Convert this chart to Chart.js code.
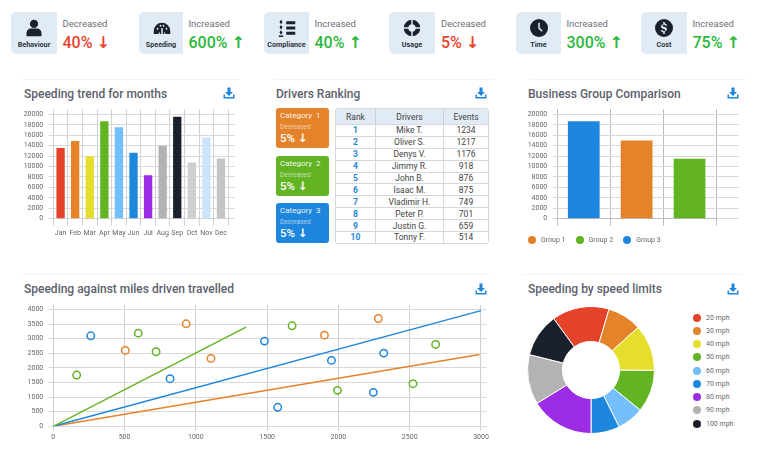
<!DOCTYPE html>
<html>
<head>
<meta charset="utf-8">
<script src="https://cdn.jsdelivr.net/npm/chart.js@4"></script>
<style>
    html, body { margin: 0; padding: 0; background: #fff; width: 762px; height: 462px; overflow: hidden; font-family: Roboto, sans-serif; }
    canvas { position: absolute; }
    .tile { position: absolute; top: 12px; width: 46px; height: 42px; background: #E1EBF5; border-radius: 5px 0 0 5px; }
    .tile svg { position: absolute; left: 14px; top: 7px; width: 18px; height: 18px; fill: #1A202C; }
    .tile span { position: absolute; left: -5px; right: -5px; top: 28px; text-align: center; font-size: 7.2px; line-height: 10px; font-weight: 700; color: #2D3540; }
    .kpi-label { position: absolute; top: 18px; font-size: 9.5px; line-height: 12px; color: #6B6F76; }
    .kpi-value { position: absolute; top: 32.500px; font-size: 16px; line-height: 20px; font-weight: 500; white-space: nowrap; }
    .kpi-value em, .card em { font-family: 'DejaVu Sans', sans-serif; font-style: normal; font-weight: 700; }
    .up { color: #2CB83C; }
    .down { color: #E8442C; }
    .title { position: absolute; font-size: 12px; line-height: 16px; font-weight: 500; color: #5C616C; white-space: nowrap; }
    .rule { position: absolute; height: 1px; background: #F4F4F4; }
    .dl { position: absolute; width: 12px; height: 12px; fill: #1F86DD; }
    .card { position: absolute; left: 276px; width: 53px; height: 40px; border-radius: 3px; color: #fff; }
    .card b { position: absolute; left: 4px; top: 2px; font-size: 8px; line-height: 12px; font-weight: 400; opacity: .9; white-space: pre; }
    .card i { position: absolute; left: 4px; top: 15px; font-size: 6.500px; line-height: 8px; font-style: normal; opacity: .6; }
    .card u { position: absolute; left: 4px; top: 23px; font-size: 11.500px; line-height: 14px; font-weight: 500; text-decoration: none; white-space: nowrap; }
    table { position: absolute; left: 335px; top: 108px; width: 152px; height: 135px; border-collapse: separate; border-spacing: 0; border: 1px solid #D5D9DE; border-radius: 3px; font-size: 8.500px; color: #444; table-layout: fixed; }
    th { background: #E1EBF5; font-weight: 400; height: 15px; padding: 0; border-left: 1px solid #C9CED4; }
    td { height: 10.900px; padding: 0; text-align: center; border-top: 1px solid #D5D9DE; border-left: 1px solid #D5D9DE; }
    th:first-child, td:first-child { border-left: 0; }
    td:first-child { color: #1F86DD; font-weight: 700; }
    .lg-dot { position: absolute; width: 8px; height: 8px; border-radius: 50%; }
    .lg-text { position: absolute; font-size: 7px; line-height: 10px; color: #666; white-space: nowrap; }
</style>
</head>
<body>

<div class="tile" style="left:11px"><svg viewBox="0 0 24 24"><circle cx="12" cy="6.5" r="5.5"/><path d="M2 23v-4c0-4 3-6.5 6-6.5h8c3 0 6 2.5 6 6.500v4z"/></svg><span>Behaviour</span></div>
<div class="kpi-label" style="left:62.500px">Decreased</div>
<div class="kpi-value down" style="left:62.500px">40% <em>↓</em></div>

<div class="tile" style="left:139px;width:44px"><svg viewBox="0 0 24 24"><path d="M1 20v-4a11 11 0 0 1 22 0v4h-6l-2-3v3h-6v-3l-2 3z"/><g fill="#E1EBF5"><circle cx="6" cy="13" r="1.200"/><circle cx="10" cy="9" r="1.200"/><circle cx="14" cy="9" r="1.200"/><circle cx="18" cy="13" r="1.200"/><rect x="11" y="12" width="2" height="8"/></g></svg><span>Speeding</span></div>
<div class="kpi-label" style="left:188.500px">Increased</div>
<div class="kpi-value up" style="left:188.500px">600% <em>↑</em></div>

<div class="tile" style="left:264px;width:45px"><svg viewBox="0 0 24 24"><rect x="11" y="3" width="12" height="4"/><rect x="11" y="10" width="12" height="4"/><rect x="11" y="17" width="12" height="4"/><path d="M4 1l2 3-2 3-2-3zM4 8l2 3-2 3-2-3zM4 15l2 3-2 3-2-3z"/><rect x="1" y="22" width="6" height="2"/></svg><span>Compliance</span></div>
<div class="kpi-label" style="left:314.500px">Increased</div>
<div class="kpi-value up" style="left:314.500px">40% <em>↑</em></div>

<div class="tile" style="left:389px"><svg viewBox="0 0 24 24"><path d="M13 1a11 11 0 0 1 10 10h-6a5 5 0 0 0-4-4zM11 1v6a5 5 0 0 0-4 4H1A11 11 0 0 1 11 1zM1 13h6a5 5 0 0 0 4 4v6A11 11 0 0 1 1 13zM17 13h6a11 11 0 0 1-10 10v-6a5 5 0 0 0 4-4z"/></svg><span>Usage</span></div>
<div class="kpi-label" style="left:441px">Decreased</div>
<div class="kpi-value down" style="left:441px">5% <em>↓</em></div>

<div class="tile" style="left:516px;width:45px"><svg viewBox="0 0 24 24"><circle cx="12" cy="12" r="12"/><path d="M11 5h2v6.500l4 4-1.500 1.500-4.500-4.500z" fill="#E1EBF5"/></svg><span>Time</span></div>
<div class="kpi-label" style="left:566.500px">Increased</div>
<div class="kpi-value up" style="left:566.500px">300% <em>↑</em></div>

<div class="tile" style="left:641px"><svg viewBox="0 0 24 24"><circle cx="12" cy="12" r="12"/><path d="M11 4h2v2c2 .3 3 1.500 3 3h-2c0-.8-.8-1.300-2-1.300s-2 .5-2 1.300 .8 1.200 2.500 1.600c2 .5 3.500 1.200 3.500 3.200 0 1.600-1.200 2.700-3 3V20h-2v-2.200c-2-.3-3-1.500-3-3.100h2c0 .9.800 1.500 2 1.500s2-.5 2-1.400-.8-1.200-2.500-1.600C9.500 12.700 8 12 8 10c0-1.600 1.200-2.700 3-3z" fill="#E1EBF5"/></svg><span>Cost</span></div>
<div class="kpi-label" style="left:692.500px">Increased</div>
<div class="kpi-value up" style="left:692.500px">75% <em>↑</em></div>

<div class="rule" style="left:23px;top:79px;width:217px"></div>
<div class="rule" style="left:275px;top:79px;width:218px"></div>
<div class="rule" style="left:530px;top:79px;width:215px"></div>
<div class="rule" style="left:23px;top:274px;width:467px"></div>
<div class="rule" style="left:523px;top:274px;width:220px"></div>

<div class="title" style="left:24px;top:85.500px">Speeding trend for months</div>
<div class="title" style="left:276px;top:85.500px">Drivers Ranking</div>
<div class="title" style="left:528px;top:85.500px">Business Group Comparison</div>
<div class="title" style="left:24px;top:280.500px">Speeding against miles driven travelled</div>
<div class="title" style="left:528px;top:280.500px">Speeding by speed limits</div>

<svg class="dl" style="left:223px;top:87px" viewBox="0 0 24 24"><path d="M9 1h6v9h5l-8 8-8-8h5zM1 15h3v5h16v-5h3v8H1z"/></svg>
<svg class="dl" style="left:475px;top:87px" viewBox="0 0 24 24"><path d="M9 1h6v9h5l-8 8-8-8h5zM1 15h3v5h16v-5h3v8H1z"/></svg>
<svg class="dl" style="left:727px;top:87px" viewBox="0 0 24 24"><path d="M9 1h6v9h5l-8 8-8-8h5zM1 15h3v5h16v-5h3v8H1z"/></svg>
<svg class="dl" style="left:475px;top:283px" viewBox="0 0 24 24"><path d="M9 1h6v9h5l-8 8-8-8h5zM1 15h3v5h16v-5h3v8H1z"/></svg>
<svg class="dl" style="left:727px;top:283px" viewBox="0 0 24 24"><path d="M9 1h6v9h5l-8 8-8-8h5zM1 15h3v5h16v-5h3v8H1z"/></svg>

<div class="card" style="top:108px;background:#E5832B"><b>Category  1</b><i>Decreased</i><u>5% <em>↓</em></u></div>
<div class="card" style="top:156px;background:#62B423"><b>Category  2</b><i>Decreased</i><u>5% <em>↓</em></u></div>
<div class="card" style="top:203px;background:#1F86DD"><b>Category  3</b><i>Decreased</i><u>5% <em>↓</em></u></div>

<table id="rank-table">
    <colgroup><col style="width:39px"><col style="width:68px"><col style="width:45px"></colgroup>
    <thead><tr><th>Rank</th><th>Drivers</th><th>Events</th></tr></thead>
    <tbody id="rank-body"></tbody>
</table>

<canvas id="trend-chart" style="left:14px;top:100px" width="221" height="145"></canvas>
<canvas id="group-chart" style="left:515px;top:100px" width="224" height="145"></canvas>
<canvas id="scatter-chart" style="left:14px;top:296px" width="480" height="150"></canvas>
<canvas id="donut-chart" style="left:527px;top:306px" width="128" height="128"></canvas>
<div id="group-legend"></div>
<div id="speed-legend"></div>

<script>
const RED = '#E54329', ORANGE = '#E5832B', YELLOW = '#E5DE2A', GREEN = '#62B423', SKY = '#74BEFC';
const BLUE = '#1F86DD', PURPLE = '#9B2BE5', GREY = '#B3B3B3', DARK = '#1A202C';

const months = ['Jan', 'Feb', 'Mar', 'Apr', 'May', 'Jun', 'Jul', 'Aug', 'Sep', 'Oct', 'Nov', 'Dec'];
const monthValues = [13540, 14920, 11970, 18680, 17550, 12660, 8340, 13980, 19560, 10780, 15550, 11540];
const monthColors = [RED, ORANGE, YELLOW, GREEN, SKY, BLUE, PURPLE, GREY, DARK, '#CFCFCF', '#CBE4F9', '#C4C4C4'];
const barTicks = [0, 2000, 4000, 6000, 8000, 10000, 12000, 14000, 16000, 18000, 20000];

const driverRanks = [1, 2, 3, 4, 5, 6, 7, 8, 9, 10];
const driverNames = ['Mike T.', 'Oliver S.', 'Denys V.', 'Jimmy R.', 'John B.', 'Isaac M.', 'Vladimir H.', 'Peter P.', 'Justin G.', 'Tonny F.'];
const driverEvents = [1234, 1217, 1176, 918, 876, 875, 749, 701, 659, 514];

const groupBars = ['a', 'b', 'c'];
const groupValues = [18700, 15000, 11500];
const groupBarColors = [BLUE, ORANGE, GREEN];
const groupNames = ['Group 1', 'Group 2', 'Group 3'];
const groupLegendColors = [ORANGE, GREEN, BLUE];

const bluePoints = [[263, 3100], [819, 1630], [1481, 2917], [1951, 2256], [2318, 2507], [2245, 1162], [1574, 650]];
const orangePoints = [[505, 2598], [932, 3510], [1106, 2325], [1902, 3122], [2280, 3692]];
const greenPoints = [[164, 1755], [596, 3190], [721, 2553], [1675, 3441], [1993, 1231], [2523, 1459], [2682, 2803]];
const blueLine = [[0, 0], [3000, 3960]];
const orangeLine = [[0, 0], [2990, 2460]];
const greenLine = [[0, 0], [1352, 3396]];
const scatterXTicks = [0, 500, 1000, 1500, 2000, 2500, 3000];
const scatterYTicks = [0, 500, 1000, 1500, 2000, 2500, 3000, 3500, 4000];

const speedLimits = ['20 mph', '30 mph', '40 mph', '50 mph', '60 mph', '70 mph', '80 mph', '90 mph', '100 mph'];
const speedShares = [14.6, 8.7, 11.8, 10.8, 6.8, 7.3, 16.2, 12.7, 11.1];
const speedColors = [RED, ORANGE, YELLOW, GREEN, SKY, BLUE, PURPLE, GREY, DARK];

const TICK = { size: 7, family: 'Roboto' };
const toXY = p => ({ x: p[0], y: p[1] });
const useTicks = values => scale => { scale.ticks = values.map(v => ({ value: v })); };
const plain = v => String(v);

function barOptions(yWidth, rightOver, gridColor) {
    return {
        responsive: false,
        animation: false,
        layout: { padding: { top: 7, left: 0, right: 0, bottom: 0 } },
        plugins: { legend: { display: false }, tooltip: { enabled: false } },
        scales: {
            x: {
                grid: { color: gridColor, tickLength: 7 },
                border: { color: gridColor },
                ticks: { font: TICK, color: '#666', padding: 3, maxRotation: 0, autoSkip: false },
                afterFit: s => { s.height = 26.3; }
            },
            y: {
                min: 0, max: 21000,
                afterBuildTicks: useTicks(barTicks),
                grid: { color: '#DADADA', tickLength: 5 },
                border: { display: false },
                ticks: { font: TICK, color: '#666', padding: 5, autoSkip: false, callback: plain },
                afterFit: s => { s.width = yWidth; }
            },
            over: {
                position: 'right',
                min: 0, max: 21000,
                afterBuildTicks: useTicks(barTicks),
                grid: { color: '#DADADA', tickLength: rightOver, drawOnChartArea: false },
                border: { display: false },
                ticks: { display: false, autoSkip: false },
                afterFit: s => { s.width = rightOver; }
            }
        }
    };
}

function renderTrendChart() {
    new Chart(document.getElementById('trend-chart'), {
        type: 'bar',
        data: { labels: months, datasets: [{ data: monthValues, backgroundColor: monthColors, categoryPercentage: 0.57, barPercentage: 1 }] },
        options: barOptions(39.3, 6.7, '#D2D2D2')
    });
}

function renderGroupChart() {
    const options = barOptions(42.3, 23, '#BDBDBD');
    options.scales.x.ticks.display = false;
    new Chart(document.getElementById('group-chart'), {
        type: 'bar',
        data: { labels: groupBars, datasets: [{ data: groupValues, backgroundColor: groupBarColors, categoryPercentage: 0.6, barPercentage: 1 }] },
        options: options
    });
}

function renderScatterChart() {
    const ring = (points, color) => ({ data: points.map(toXY), showLine: false, pointRadius: 3.7, pointBorderWidth: 1.5, pointBorderColor: color, pointBackgroundColor: 'rgba(255,255,255,0.6)' });
    const line = (points, color) => ({ data: points.map(toXY), showLine: true, pointRadius: 0, borderColor: color, borderWidth: 1.4 });
    new Chart(document.getElementById('scatter-chart'), {
        type: 'scatter',
        data: {
            datasets: [
                line(greenLine, GREEN), line(blueLine, BLUE), line(orangeLine, ORANGE),
                ring(bluePoints, BLUE), ring(orangePoints, ORANGE), ring(greenPoints, GREEN)
            ]
        },
        options: {
            responsive: false,
            animation: false,
            layout: { padding: { top: 9, left: 0, right: 7.3, bottom: 0 } },
            plugins: { legend: { display: false }, tooltip: { enabled: false } },
            scales: {
                x: {
                    min: 0, max: 3040,
                    afterBuildTicks: useTicks(scatterXTicks),
                    grid: { color: '#CFCFCF', tickLength: 4 },
                    border: { color: '#DADADA' },
                    ticks: { font: TICK, color: '#666', padding: 3, maxRotation: 0, autoSkip: false, callback: plain },
                    afterFit: s => { s.height = 19.7; }
                },
                y: {
                    min: 0, max: 4147,
                    afterBuildTicks: useTicks(scatterYTicks),
                    grid: { color: '#DADADA', tickLength: 5 },
                    border: { color: '#CFCFCF' },
                    ticks: { font: TICK, color: '#666', padding: 5, autoSkip: false, callback: plain },
                    afterFit: s => { s.width = 39.3; }
                }
            }
        }
    });
}

function renderDonutChart() {
    new Chart(document.getElementById('donut-chart'), {
        type: 'doughnut',
        data: { labels: speedLimits, datasets: [{ data: speedShares, backgroundColor: speedColors, borderColor: '#fff', borderWidth: 1, hoverOffset: 0 }] },
        options: {
            responsive: false,
            animation: false,
            rotation: -36,
            cutout: '45%',
            plugins: { legend: { display: false }, tooltip: { enabled: false } }
        }
    });
}

function renderTable() {
    document.getElementById('rank-body').innerHTML = driverRanks.map((r, i) =>
        `<tr><td>${r}</td><td>${driverNames[i]}</td><td>${driverEvents[i]}</td></tr>`).join('');
}

function renderLegends() {
    const group = document.getElementById('group-legend');
    group.innerHTML = groupNames.map((name, i) => {
        const x = 528 + i * 47.6;
        return `<div class="lg-dot" style="left:${x}px;top:236px;background:${groupLegendColors[i]}"></div>` +
            `<div class="lg-text" style="left:${x + 13}px;top:235px">${name}</div>`;
    }).join('');
    const speed = document.getElementById('speed-legend');
    speed.innerHTML = speedLimits.map((name, i) => {
        const y = 317.7 + i * 13.25;
        return `<div class="lg-dot" style="left:693px;top:${y - 4}px;background:${speedColors[i]}"></div>` +
            `<div class="lg-text" style="left:706px;top:${y - 5}px">${name}</div>`;
    }).join('');
}

renderTrendChart();
renderGroupChart();
renderScatterChart();
renderDonutChart();
renderTable();
renderLegends();
</script>
</body>
</html>
